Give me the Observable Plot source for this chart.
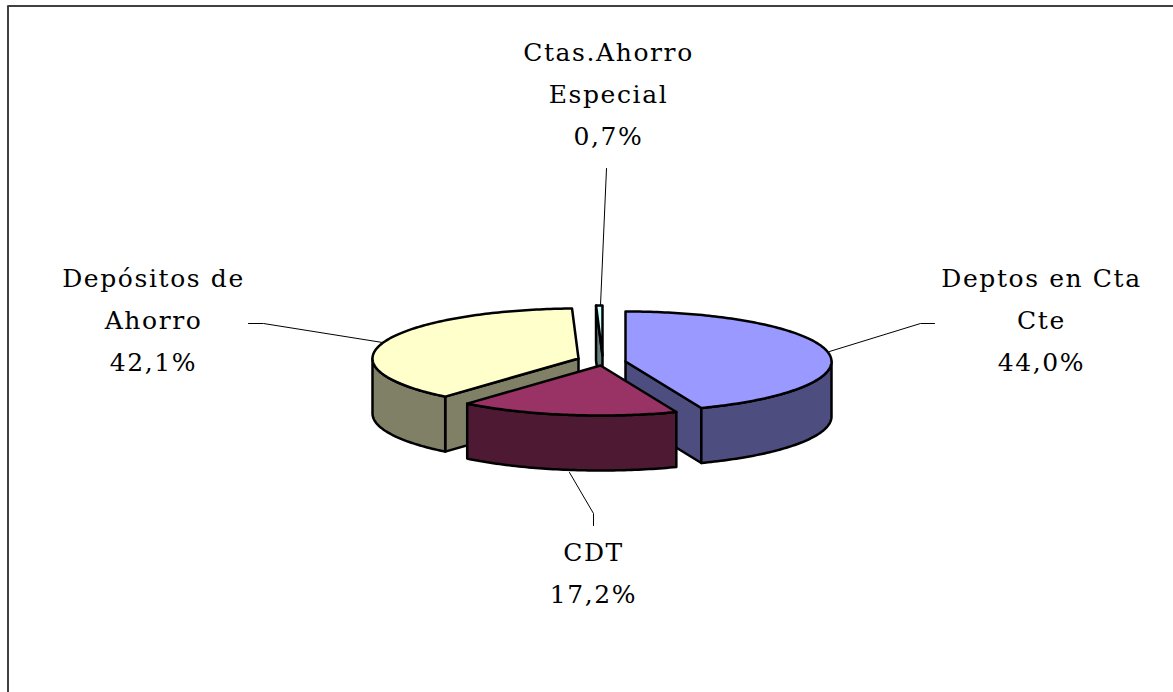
<!DOCTYPE html>
<html>
<head>
<meta charset="utf-8">
<style>html,body{margin:0;padding:0;background:#fff}svg{display:block}</style>
<script src="https://cdn.jsdelivr.net/npm/d3@7"></script>
<script src="https://cdn.jsdelivr.net/npm/@observablehq/plot@0.6"></script>
</head>
<body>
<div id="chart"></div>
<script>
// Data
const categories = ["Deptos en Cta Cte", "CDT", "Depósitos de Ahorro", "Ctas.Ahorro Especial"];
const labelLines = [["Deptos en Cta", "Cte", "44,0%"], ["CDT", "17,2%"], ["Depósitos de", "Ahorro", "42,1%"], ["Ctas.Ahorro", "Especial", "0,7%"]];
// Angular share of each drawn slice, in percent of the full turn
const sweepShare = [44.0, 17.2, 38.3, 0.5];

// Styles
const topColors = ["#9999ff", "#993366", "#ffffcc", "#ccffff"];
const sideColors = ["#4d4d80", "#4d1933", "#808066", "#668080"];

// Layout (kept apart from the data)
const apexX = [625, 600, 578, 602];
const apexY = [361, 365, 358, 355];
const rx = 206, ry = 50, depth = 55;
const labelX = [1041, 593, 153, 608];
const labelY = [278, 552, 278, 52];
const lineGap = 42;
const leaders = [
  [[829, 351], [920, 323], [934, 323]],
  [[569, 472], [593, 513], [593, 525]],
  [[382, 342], [263, 323], [248, 323]],
  [[600, 305], [606, 168]]
];

const rim = (i, deg, drop = 0) => {
  const a = deg * Math.PI / 180;
  return {x: apexX[i] + rx * Math.sin(a), y: apexY[i] - ry * Math.cos(a) + drop};
};
const centre = (i, drop = 0) => ({x: apexX[i], y: apexY[i] + drop});
const arc = (i, from, to, drop = 0) => {
  const pts = [];
  const n = Math.max(1, Math.ceil(Math.abs(to - from)));
  for (let k = 0; k <= n; ++k) pts.push(rim(i, from + (to - from) * k / n, drop));
  return pts;
};

// Cumulative slice angles
let acc = 0;
const slices = sweepShare.map((v, i) => {
  const t0 = acc; acc += v * 3.6;
  return {i, t0, t1: acc};
});

const polygon = (pts, fill) => Plot.line([...pts, pts[0]], {
  x: "x", y: "y", fill, stroke: "#000", strokeWidth: 2.5, curve: "linear", strokeLinejoin: "round"
});

const sliceMarks = ({i, t0, t1}) => {
  const marks = [];
  const sin = d => Math.sin(d * Math.PI / 180);
  if (sin(t0) < -1e-6) marks.push(polygon([centre(i), rim(i, t0), rim(i, t0, depth), centre(i, depth)], sideColors[i]));
  if (sin(t1) > 1e-6) marks.push(polygon([centre(i), rim(i, t1), rim(i, t1, depth), centre(i, depth)], sideColors[i]));
  const f0 = Math.max(t0, 90), f1 = Math.min(t1, 270);
  if (f1 > f0) marks.push(polygon([...arc(i, f0, f1), ...arc(i, f1, f0, depth)], sideColors[i]));
  marks.push(polygon([centre(i), ...arc(i, t0, t1)], topColors[i]));
  return marks;
};

// Painter's order: back slices first
const drawOrder = [3, 2, 0, 1];

const labelRows = labelLines.flatMap((lines, i) =>
  lines.map((text, k) => ({text, x: labelX[i], y: labelY[i] + k * lineGap, cat: categories[i]})));

const chart = Plot.plot({
  width: 1173,
  height: 692,
  margin: 0,
  x: {domain: [0, 1173], range: [0, 1173], axis: null},
  y: {domain: [0, 692], range: [0, 692], axis: null},
  style: {background: "#fff", letterSpacing: "1.6px"},
  marks: [
    Plot.line([{x: 7.5, y: 692}, {x: 7.5, y: 5.5}, {x: 1173, y: 5.5}], {x: "x", y: "y", stroke: "#404040", strokeWidth: 2}),
    ...leaders.map(l => Plot.line(l.map(([x, y]) => ({x, y})), {x: "x", y: "y", stroke: "#000", strokeWidth: 1})),
    ...drawOrder.flatMap(i => sliceMarks(slices[i])),
    Plot.text(labelRows, {
      x: "x", y: "y", text: "text", fill: "#000", textAnchor: "middle", lineAnchor: "middle",
      fontSize: 25, fontFamily: "DejaVu Serif"
    })
  ]
});
document.getElementById("chart").append(chart);
</script>
</body>
</html>
